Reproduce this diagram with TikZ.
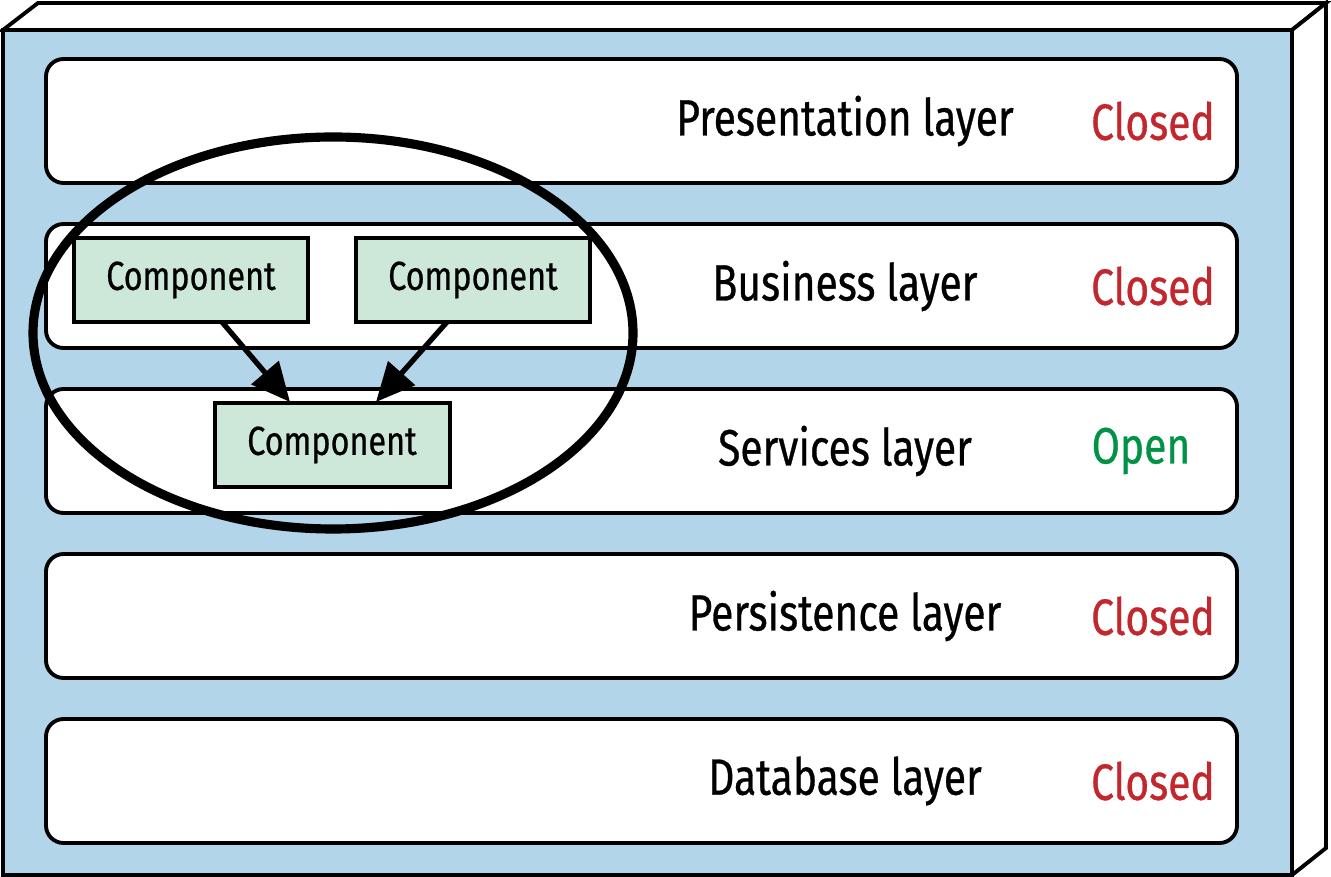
\documentclass[tikz,border=0pt]{standalone}
\usepackage{fontspec}
\setmainfont{Fira Sans}[FakeStretch=0.8,FakeBold=0.6]
\usetikzlibrary{arrows.meta}
\definecolor{bluebg}{HTML}{B3D5EA}
\definecolor{compfill}{HTML}{CDE8D9}
\definecolor{closedred}{HTML}{C1272D}
\definecolor{opengreen}{HTML}{009245}
\begin{document}
\begin{tikzpicture}[x=0.01cm,y=-0.01cm,
  layer/.style={draw,line width=1.1pt,rounded corners=5pt,fill=white},
  lbl/.style={font=\fontsize{14.5}{16}\selectfont},
  st/.style={font=\fontsize{14.5}{16}\selectfont},
  ctext/.style={font=\fontsize{11.5}{13}\selectfont},
  arr/.style={line width=1.5pt,-{Triangle[length=11pt,width=10pt]}}]
\useasboundingbox (0,0) rectangle (1331,877);
\draw[line width=1.1pt,fill=white] (3,30) -- (38,3) -- (1326,3) -- (1292,30) -- cycle;
\draw[line width=1.1pt,fill=white] (1292,30) -- (1326,3) -- (1326,848) -- (1292,875) -- cycle;
\draw[line width=1.1pt,fill=bluebg] (3,30) rectangle (1292,875);
\foreach \t/\b in {59/183,224/348,389/513,554/678,719/843}{
  \draw[layer] (46,\t) rectangle (1237,\b);
}
\node[lbl] (t1) at (845,121) {Presentation layer};
\node[lbl] (t2) at (845,286) {Business layer};
\node[lbl] (t3) at (845,451) {Services layer};
\node[lbl] (t4) at (845,616) {Persistence layer};
\node[lbl] (t5) at (845,781) {Database layer};
\node[st,text=closedred] (s1) at (1153,121) {Closed};
\node[st,text=closedred] (s2) at (1153,286) {Closed};
\node[st,text=opengreen] (s3) at (1141,451) {Open};
\node[st,text=closedred] (s4) at (1153,616) {Closed};
\node[st,text=closedred] (s5) at (1153,781) {Closed};
\draw[line width=1.1pt,fill=compfill] (74,238) rectangle (308,322);
\draw[line width=1.1pt,fill=compfill] (356,238) rectangle (590,322);
\draw[line width=1.1pt,fill=compfill] (215,403) rectangle (450,487);
\node[ctext] (c1) at (191,280) {Component};
\node[ctext] (c2) at (473,280) {Component};
\node[ctext] (c3) at (332,445) {Component};
\coordinate (a1s) at (222,322); \coordinate (a1e) at (290,402);
\coordinate (a2s) at (447,322); \coordinate (a2e) at (376,402);
\draw[arr] (a1s) -- (a1e);
\draw[arr] (a2s) -- (a2e);
\draw[line width=2.6pt] (333,333) ellipse [x radius=300, y radius=196];
\end{tikzpicture}
\end{document}
